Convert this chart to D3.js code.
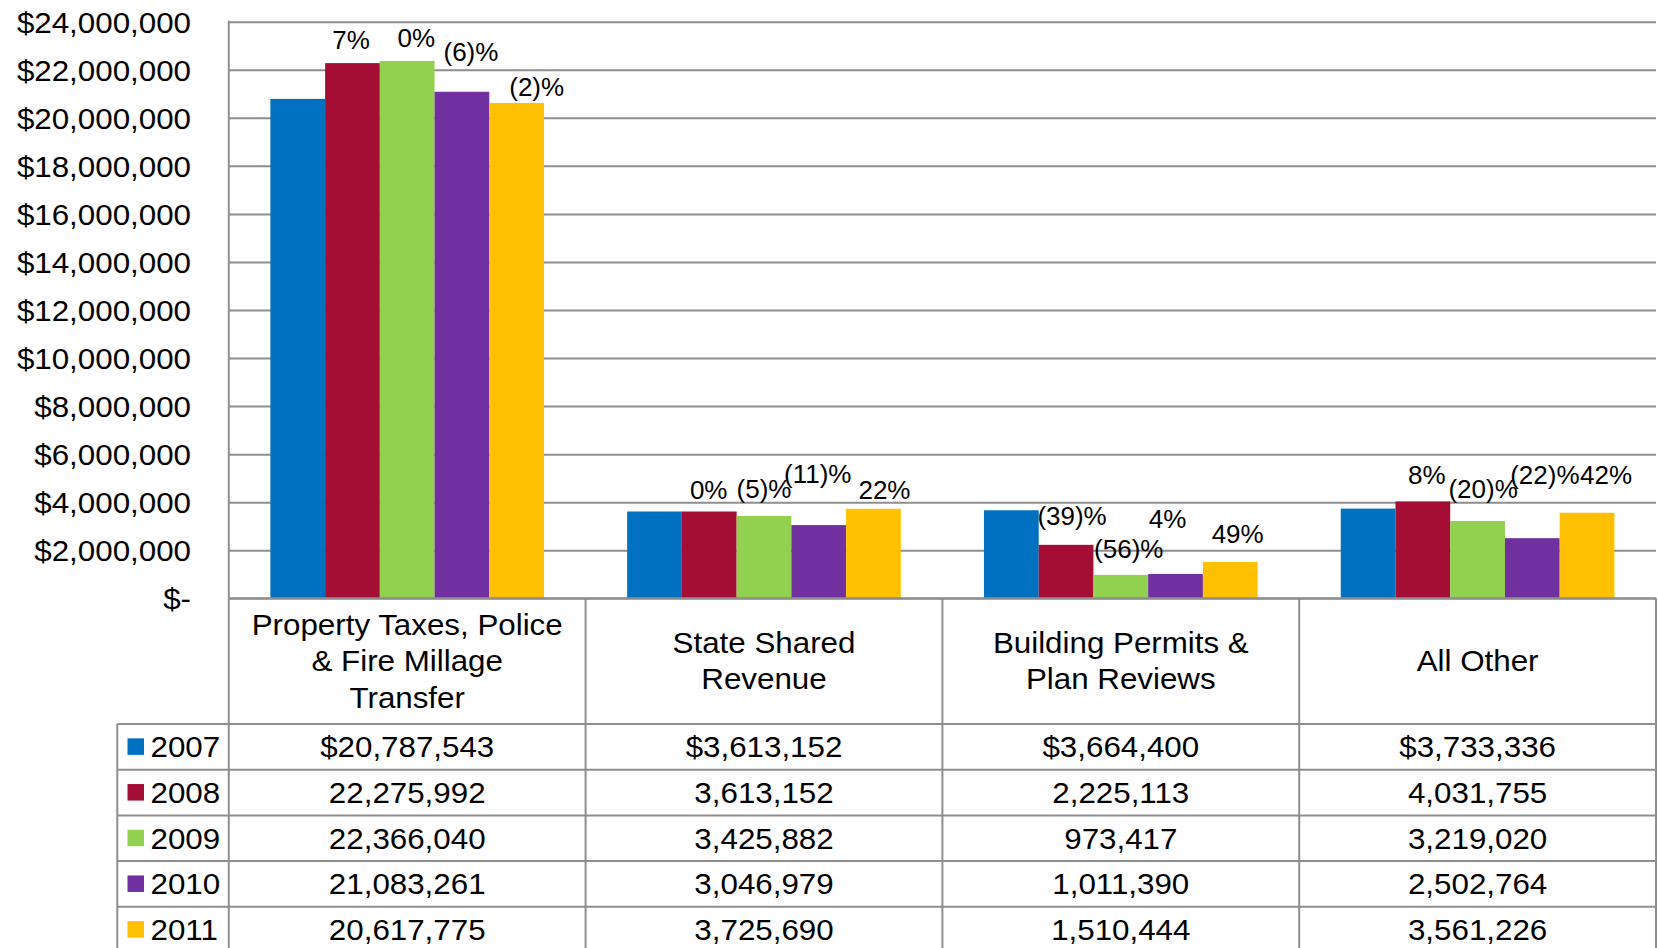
<!DOCTYPE html>
<html>
<head>
<meta charset="utf-8">
<script src="https://cdn.jsdelivr.net/npm/d3@7"></script>
<style>
  html, body { margin: 0; padding: 0; background: #ffffff; }
  svg { display: block; font-family: "Liberation Sans", Arial, sans-serif; }
</style>
</head>
<body>
<svg id="chart" width="1658" height="948"></svg>
<script>
// ---------------- data ----------------
const categories = ["Property Taxes, Police & Fire Millage Transfer", "State Shared Revenue", "Building Permits & Plan Reviews", "All Other"];
const categoryLines = [["Property Taxes, Police", "& Fire Millage", "Transfer"], ["State Shared", "Revenue"], ["Building Permits &", "Plan Reviews"], ["All Other"]];
const years = ["2007", "2008", "2009", "2010", "2011"];
const colors = ["#0070C0", "#A50E34", "#92D050", "#7030A0", "#FFC000"];

const values2007 = [20787543, 3613152, 3664400, 3733336];
const values2008 = [22275992, 3613152, 2225113, 4031755];
const values2009 = [22366040, 3425882, 973417, 3219020];
const values2010 = [21083261, 3046979, 1011390, 2502764];
const values2011 = [20617775, 3725690, 1510444, 3561226];

// year-over-year change labels shown above bars (none for 2007)
const pct2007 = [null, null, null, null];
const pct2008 = ["7%", "0%", "(39)%", "8%"];
const pct2009 = ["0%", "(5)%", "(56)%", "(20)%"];
const pct2010 = ["(6)%", "(11)%", "4%", "(22)%"];
const pct2011 = ["(2)%", "22%", "49%", "42%"];

const yTickValues = [0, 2000000, 4000000, 6000000, 8000000, 10000000, 12000000, 14000000, 16000000, 18000000, 20000000, 22000000, 24000000];

// ---------------- layout (kept apart from data) ----------------
const seriesValues = [values2007, values2008, values2009, values2010, values2011];
const seriesPct = [pct2007, pct2008, pct2009, pct2010, pct2011];
// manual nudges of the percentage labels [dx, dy] per series / category
const labelNudge = [
  [[0, 0], [0, 0], [0, 0], [0, 0]],
  [[-1.5, 0], [-0.6, 1.3], [6, -5.6], [4, -3.4]],
  [[9, 0], [0, -3.7], [8, -3], [5.5, -8.7]],
  [[9, -17], [-1, -28], [-8, -32], [12.5, -40]],
  [[20, 7], [11, 4], [7.4, -5.3], [19, -14.7]]
];

const plotLeft = 228.8, plotRight = 1656, plotTop = 21.7, plotBottom = 598.3;
const headerBottom = 724, rowH = 45.7, legendLeft = 117.3;
const gridColor = "#8e8e8e";
const bigFont = 29, bigStretch = 1.08;
const pctFont = 25, pctStretch = 1.04;

const svg = d3.select("#chart");

const x0 = d3.scaleBand().domain(categories).range([plotLeft, plotRight]).paddingInner(0.233).paddingOuter(0.1165);
const x1 = d3.scaleBand().domain(years).range([0, x0.bandwidth()]).padding(0);
const xCol = d3.scaleBand().domain(categories).range([plotLeft, plotRight]).padding(0);
const y = d3.scaleLinear().domain([0, 24000000]).range([plotBottom, plotTop]);

const fmtMoney = d3.format(",.0f");

function stretchedText(sel, x, yy, txt, size, stretch, anchor) {
  return sel.append("text")
    .attr("transform", `translate(${x},${yy}) scale(${stretch},1)`)
    .attr("text-anchor", anchor)
    .attr("font-size", size)
    .attr("fill", "#000")
    .text(txt);
}

// ---------------- grid + y axis ----------------
const yAxis = d3.axisLeft(y)
  .tickValues(yTickValues)
  .tickSizeInner(-(plotRight - plotLeft))
  .tickSizeOuter(0)
  .tickFormat(d => d === 0 ? "$-" : "$" + fmtMoney(d));

const gy = svg.append("g").attr("transform", `translate(${plotLeft},0)`).call(yAxis);
gy.select(".domain").remove();
gy.selectAll(".tick line").attr("stroke", gridColor).attr("stroke-width", 2);
gy.selectAll(".tick text")
  .attr("font-size", bigFont)
  .attr("fill", "#000")
  .attr("font-family", "Liberation Sans, Arial, sans-serif")
  .attr("dy", null)
  .attr("y", 10.4)
  .attr("x", -(plotLeft - 191) / bigStretch)
  .attr("transform", `scale(${bigStretch},1)`);

// left border of plot
svg.append("line")
  .attr("x1", plotLeft).attr("x2", plotLeft)
  .attr("y1", plotTop - 1).attr("y2", plotBottom)
  .attr("stroke", gridColor).attr("stroke-width", 2);

// ---------------- bars ----------------
const groups = svg.append("g").selectAll("g")
  .data(categories)
  .join("g")
  .attr("transform", d => `translate(${x0(d)},0)`);

groups.selectAll("rect")
  .data((c, ci) => years.map((yr, si) => ({ yr, si, ci, v: seriesValues[si][ci] })))
  .join("rect")
  .attr("x", d => x1(d.yr))
  .attr("width", x1.bandwidth())
  .attr("y", d => y(d.v))
  .attr("height", d => y(0) - y(d.v))
  .attr("fill", d => colors[d.si]);

// percentage labels
const pctG = svg.append("g");
categories.forEach((c, ci) => {
  years.forEach((yr, si) => {
    const lbl = seriesPct[si][ci];
    if (!lbl) return;
    const v = seriesValues[si][ci];
    const cx = x0(c) + x1(yr) + x1.bandwidth() / 2 + labelNudge[si][ci][0];
    const by = y(v) - 14 + labelNudge[si][ci][1];
    stretchedText(pctG, cx, by, lbl, pctFont, pctStretch, "middle");
  });
});

// ---------------- data table ----------------
const tbl = svg.append("g");
const nRows = years.length;
const tableBottom = headerBottom + nRows * rowH;

// top border (zero line) across categories
tbl.append("line")
  .attr("x1", plotLeft).attr("x2", plotRight)
  .attr("y1", plotBottom).attr("y2", plotBottom)
  .attr("stroke", gridColor).attr("stroke-width", 2);

// vertical column lines
const colEdges = categories.map(c => xCol(c)).concat([plotRight]);
colEdges.forEach(xe => {
  tbl.append("line")
    .attr("x1", xe).attr("x2", xe)
    .attr("y1", plotBottom).attr("y2", tableBottom)
    .attr("stroke", gridColor).attr("stroke-width", 2);
});
// legend column left edge
tbl.append("line")
  .attr("x1", legendLeft).attr("x2", legendLeft)
  .attr("y1", headerBottom).attr("y2", tableBottom)
  .attr("stroke", gridColor).attr("stroke-width", 2);

// horizontal row lines
d3.range(nRows + 1).forEach(i => {
  const yy = headerBottom + i * rowH;
  tbl.append("line")
    .attr("x1", legendLeft).attr("x2", plotRight)
    .attr("y1", yy).attr("y2", yy)
    .attr("stroke", gridColor).attr("stroke-width", 2);
});

// header texts
const headCenter = (plotBottom + headerBottom) / 2;
categories.forEach((c, ci) => {
  const lines = categoryLines[ci];
  const cx = xCol(c) + xCol.bandwidth() / 2;
  lines.forEach((ln, li) => {
    const by = headCenter + 10 + (li - (lines.length - 1) / 2) * 36.5;
    stretchedText(tbl, cx, by, ln, bigFont, bigStretch, "middle");
  });
});

// rows
years.forEach((yr, si) => {
  const rowTop = headerBottom + si * rowH;
  const rc = rowTop + rowH / 2;
  tbl.append("rect")
    .attr("x", 127.5).attr("y", rc - 8.5)
    .attr("width", 16.5).attr("height", 16.5)
    .attr("fill", colors[si]);
  stretchedText(tbl, 150.5, rc + 10.4, yr, bigFont, bigStretch, "start");
  categories.forEach((c, ci) => {
    const v = seriesValues[si][ci];
    const txt = (si === 0 ? "$" : "") + fmtMoney(v);
    stretchedText(tbl, xCol(c) + xCol.bandwidth() / 2, rc + 10.4, txt, bigFont, bigStretch, "middle");
  });
});
</script>
</body>
</html>
